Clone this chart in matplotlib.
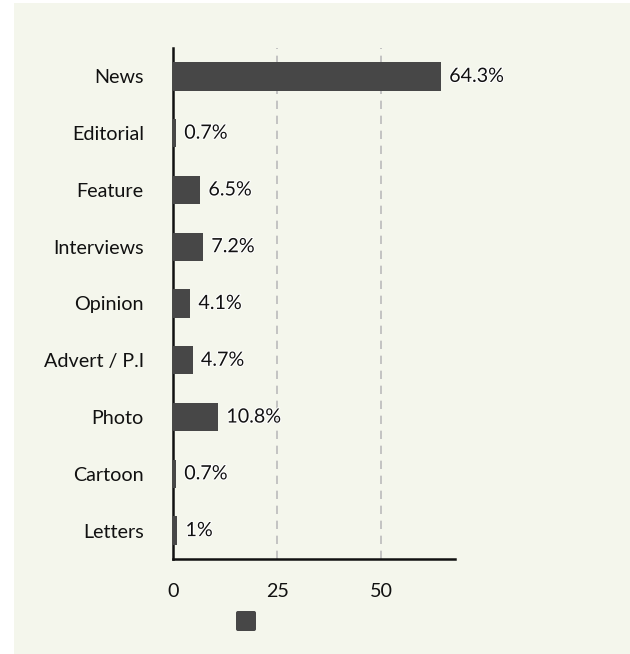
import matplotlib
matplotlib.use("Agg")
import matplotlib.pyplot as plt
import matplotlib.patheffects as pe
from matplotlib.patches import Rectangle, FancyBboxPatch

categories = ["News", "Editorial", "Feature", "Interviews", "Opinion",
              "Advert / P.I", "Photo", "Cartoon", "Letters"]
values = [64.3, 0.7, 6.5, 7.2, 4.1, 4.7, 10.8, 0.7, 1.0]
labels = ["64.3%", "0.7%", "6.5%", "7.2%", "4.1%", "4.7%", "10.8%", "0.7%", "1%"]
xticks = [0, 25, 50]

plt.rcParams["font.family"] = ["Lato", "DejaVu Sans"]
bg = "#f4f6ec"
bar_color = "#474747"
fs = 14.2

W, H = 630, 654
fig = plt.figure(figsize=(W / 100, H / 100), dpi=100, facecolor="white")
fig.patches.append(Rectangle((14 / W, 0), 1 - 14 / W, 1 - 3 / H,
                             transform=fig.transFigure, facecolor=bg,
                             edgecolor="none", zorder=-10))

left, right, top, bottom = 173, 455, 48, 559
ax = fig.add_axes([left / W, 1 - bottom / H, (right - left) / W, (bottom - top) / H])
ax.set_facecolor(bg)

y = list(range(len(categories)))
ax.barh(y, values, height=0.5, color=bar_color, zorder=3)
for yi, v, lab in zip(y, values, labels):
    ax.annotate(lab, (v, yi), xytext=(6, 0), textcoords="offset points",
                ha="left", va="center", fontsize=fs, color="#111111", zorder=4,
                path_effects=[pe.withStroke(linewidth=1.5, foreground="white")])

ax.set_ylim(len(categories) - 0.5, -0.5)
ax.set_xlim(0, 67.7)
ax.set_yticks(y)
ax.set_yticklabels(categories, fontsize=fs, color="#111111")
ax.set_xticks(xticks)
ax.set_xticklabels([str(t) for t in xticks], fontsize=fs, color="#111111")
ax.tick_params(axis="both", length=0)
ax.tick_params(axis="y", pad=21)
ax.tick_params(axis="x", pad=17.5)

for t in xticks[1:]:
    ax.axvline(t, color="#bbbbbb", linestyle=(0, (5, 4)), linewidth=1.2, zorder=1)

for s in ["top", "right"]:
    ax.spines[s].set_visible(False)
for s in ["left", "bottom"]:
    ax.spines[s].set_linewidth(1.8)
    ax.spines[s].set_color("#111111")

# legend marker without text
fig.patches.append(FancyBboxPatch((236 / W, 1 - 631 / H), 20 / W, 20 / H,
                                  boxstyle="round,pad=0,rounding_size=0.003",
                                  transform=fig.transFigure, facecolor=bar_color,
                                  edgecolor="none"))

fig.savefig("out.png", dpi=100, facecolor="white")
